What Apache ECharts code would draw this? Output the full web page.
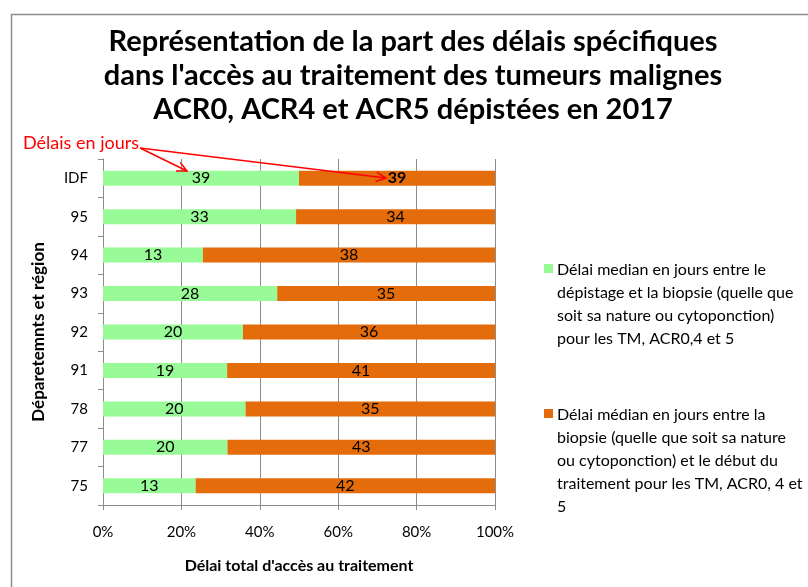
<!DOCTYPE html>
<html>
<head>
<meta charset="utf-8">
<script src="https://cdn.jsdelivr.net/npm/echarts@6/dist/echarts.min.js"></script>
<style>
  html, body { margin: 0; padding: 0; background: #fff; }
  #chart { width: 808px; height: 587px; }
</style>
</head>
<body>
<div id="chart"></div>
<script>
// categories, top to bottom
const regions = ['IDF', '95', '94', '93', '92', '91', '78', '77', '75'];
// median days: screening -> biopsy
const delaiBiopsie = [39, 33, 13, 28, 20, 19, 20, 20, 13];
// median days: biopsy -> start of treatment
const delaiTraitement = [39, 34, 38, 35, 36, 41, 35, 43, 42];

const nameBiopsie = 'Délai median en jours entre le dépistage et la biopsie (quelle que soit sa nature ou cytoponction) pour les TM, ACR0,4 et 5';
const nameTraitement = 'Délai médian en jours entre la biopsie (quelle que soit sa nature ou cytoponction) et le début du traitement pour les TM, ACR0, 4 et 5';

const FONT = 'Lato, "Open Sans", sans-serif';
const GREEN = '#98fb98';
const ORANGE = '#e46c0a';

const totals = regions.map((r, i) => delaiBiopsie[i] + delaiTraitement[i]);
const pctBiopsie = delaiBiopsie.map((v, i) => ({ value: v / totals[i] * 100, raw: v }));
const pctTraitement = delaiTraitement.map((v, i) => ({
    value: v / totals[i] * 100,
    raw: v,
    label: i === 0 ? { fontWeight: 'bold' } : undefined
}));

const chart = echarts.init(document.getElementById('chart'));

function arrow(x1, y1, x2, y2) {
    // line plus open arrow head
    const a = Math.atan2(y2 - y1, x2 - x1);
    const L = 11, w = 0.45;
    const st = { stroke: '#ff0000', lineWidth: 1.5, fill: null };
    return [
        { type: 'polyline', z: 100, shape: { points: [[x1, y1], [x2, y2]] }, style: st },
        { type: 'polyline', z: 100, shape: { points: [
            [x2 - L * Math.cos(a - w), y2 - L * Math.sin(a - w)],
            [x2, y2],
            [x2 - L * Math.cos(a + w), y2 - L * Math.sin(a + w)]
        ] }, style: st }
    ];
}

function legendItem(top, color, text) {
    return [
        { type: 'rect', left: 544, top: top + 6, shape: { width: 9, height: 9 }, style: { fill: color } },
        { type: 'text', left: 557, top: top, style: { text: text, font: '16px ' + FONT, fill: '#000', lineHeight: 23 } }
    ];
}

const option = {
    backgroundColor: '#fff',
    textStyle: { fontFamily: FONT },
    title: {
        text: 'Représentation de la part des délais spécifiques\ndans l\'accès au traitement des tumeurs malignes\nACR0, ACR4 et ACR5 dépistées en 2017',
        left: 408,
        textAlign: 'center',
        top: 20,
        textStyle: { fontFamily: FONT, fontSize: 29, fontWeight: 'bold', color: '#000', lineHeight: 34 }
    },
    grid: { left: 103, right: 313, top: 159, bottom: 82, containLabel: false },
    xAxis: {
        type: 'value',
        min: 0,
        max: 100,
        interval: 20,
        name: 'Délai total d\'accès au traitement',
        nameLocation: 'middle',
        nameGap: 53,
        nameTextStyle: { fontFamily: FONT, fontSize: 16, fontWeight: 'bold', color: '#000' },
        axisLine: { show: true, lineStyle: { color: '#8c8c8c' } },
        axisTick: { show: true, length: 5, lineStyle: { color: '#8c8c8c' } },
        axisLabel: { formatter: '{value}%', margin: 20, fontSize: 15, color: '#000', fontFamily: FONT },
        splitLine: { show: true, lineStyle: { color: '#8c8c8c', width: 1 } }
    },
    yAxis: {
        type: 'category',
        data: regions,
        inverse: true,
        name: 'Déparetemnts et région',
        nameLocation: 'middle',
        nameRotate: 90,
        nameGap: 56,
        nameTextStyle: { fontFamily: FONT, fontSize: 17, fontWeight: 'bold', color: '#000' },
        axisLine: { show: true, lineStyle: { color: '#8c8c8c' } },
        axisTick: { show: true, length: 5, lineStyle: { color: '#8c8c8c' } },
        axisLabel: { margin: 15, fontSize: 15, color: '#000', fontFamily: FONT }
    },
    series: [
        {
            name: nameBiopsie,
            type: 'bar',
            stack: 'total',
            barWidth: 15,
            data: pctBiopsie,
            itemStyle: { color: GREEN },
            label: { show: true, position: 'inside', color: '#000', fontSize: 16, fontFamily: FONT, formatter: p => p.data.raw }
        },
        {
            name: nameTraitement,
            type: 'bar',
            stack: 'total',
            barWidth: 15,
            data: pctTraitement,
            itemStyle: { color: ORANGE },
            label: { show: true, position: 'inside', color: '#000', fontSize: 16, fontFamily: FONT, formatter: p => p.data.raw }
        }
    ],
    graphic: [
        { type: 'rect', left: 9, top: 12, shape: { width: 820, height: 620 }, style: { fill: null, stroke: '#8c8c8c', lineWidth: 1.5 }, z: -1 },
        { type: 'text', left: 23, top: 134, style: { text: 'Délais en jours', font: '18px ' + FONT, fill: '#ff0000' } },
        ...arrow(140, 148, 187, 171),
        ...arrow(140, 148, 386, 178),
        ...legendItem(258, GREEN, 'Délai median en jours entre le\ndépistage et la biopsie (quelle que\nsoit sa nature ou cytoponction)\npour les TM, ACR0,4 et 5'),
        ...legendItem(403, ORANGE, 'Délai médian en jours entre la\nbiopsie (quelle que soit sa nature\nou cytoponction) et le début du\ntraitement pour les TM, ACR0, 4 et\n5')
    ]
};

chart.setOption(option);
</script>
</body>
</html>
